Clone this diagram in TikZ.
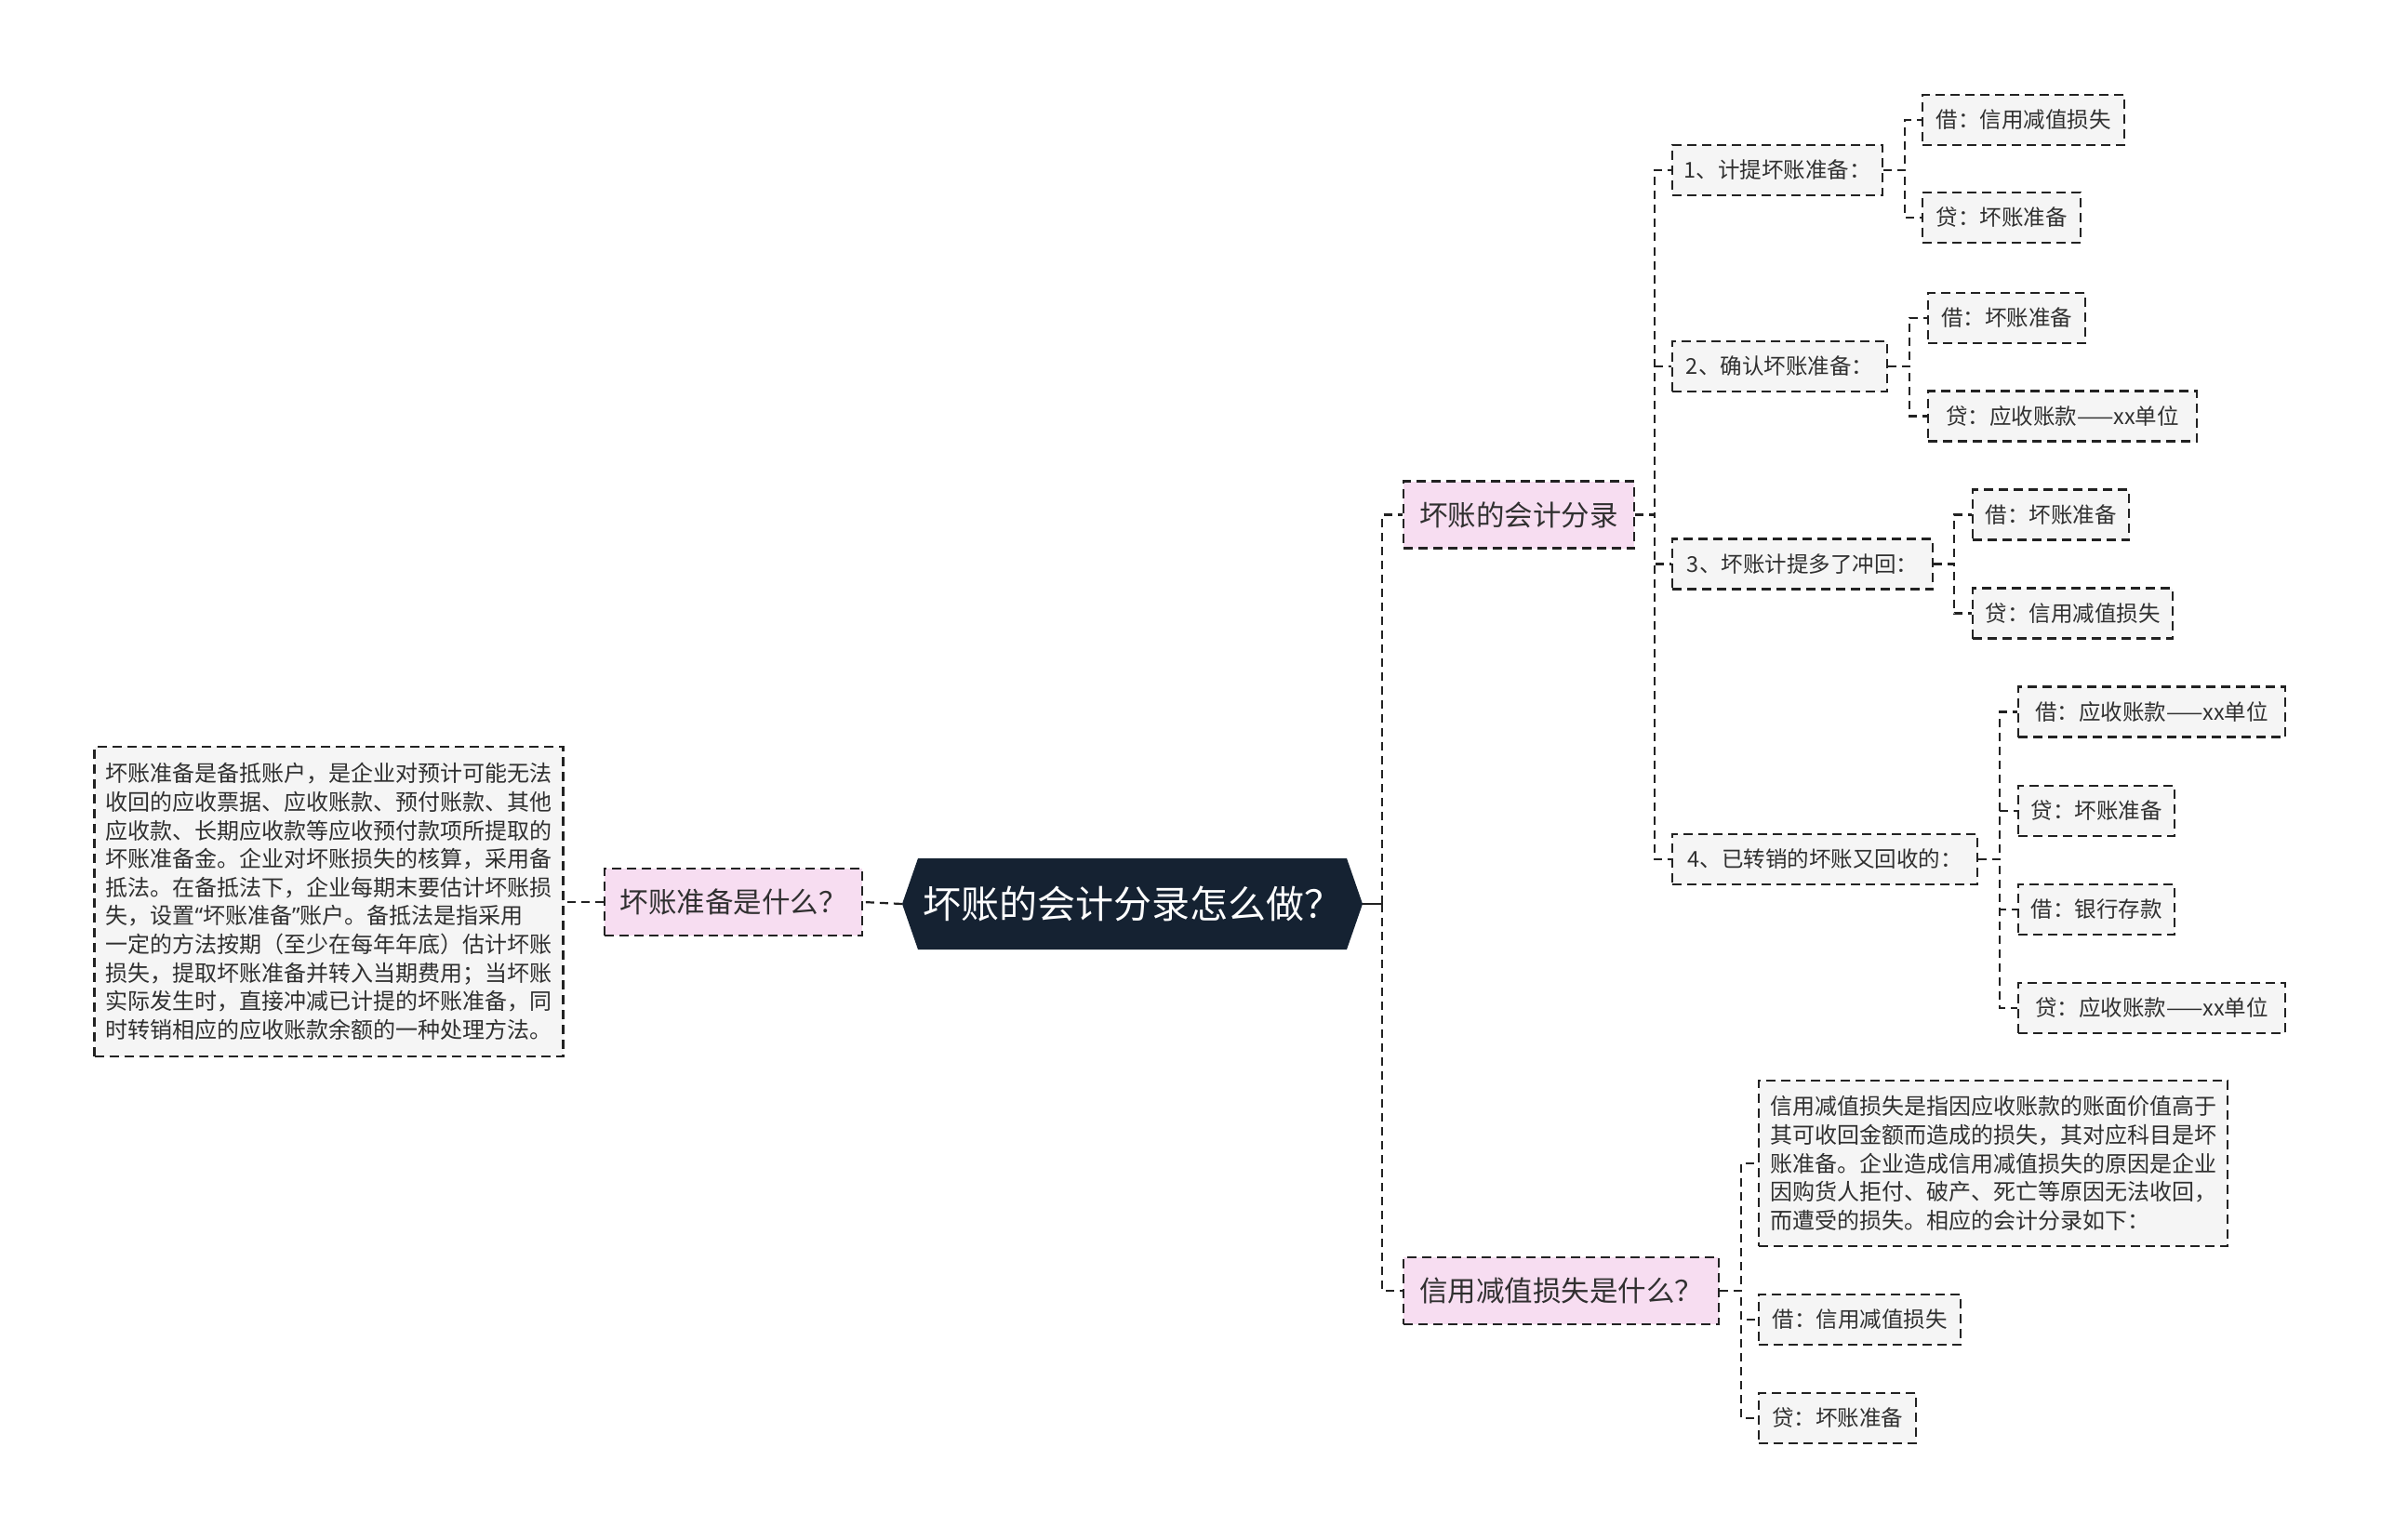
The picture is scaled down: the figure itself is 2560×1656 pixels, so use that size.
\documentclass[tikz,border=0pt]{standalone}
\usepackage{fontspec}
\setmainfont{Noto Sans CJK SC}
\newfontfamily\latq{Noto Sans}
\definecolor{navy}{HTML}{152232}
\definecolor{pinkf}{HTML}{F7DDF1}
\definecolor{leaff}{HTML}{F5F5F5}
\definecolor{bord}{HTML}{222222}
\definecolor{txt}{HTML}{303030}
\tikzset{
  box/.style={draw=bord, line width=2.4pt, dash pattern=on 10pt off 6pt, inner sep=0pt, text=txt},
  leaf/.style={box, fill=leaff, minimum height=54pt, font=\fontsize{23.5}{30}\selectfont},
  topic/.style={box, fill=pinkf, minimum height=72pt, font=\fontsize{30.5}{36}\selectfont},
  longtxt/.style={box, fill=leaff, align=left, text width=480pt, font=\fontsize{24}{30.6}\selectfont, inner xsep=12pt},
  edge/.style={draw=bord, line width=2.2pt, dash pattern=on 9pt off 6pt},
  stub/.style={draw=bord, line width=2.4pt},
}
\begin{document}
\begin{tikzpicture}[x=1pt,y=-1pt]
\fill[white] (0,0) rectangle (2560,1656);
\useasboundingbox (0,0) rectangle (2560,1656);

% central hexagon
\fill[navy] (970,972) -- (987,923) -- (1448,923) -- (1465,972) -- (1448,1021) -- (987,1021) -- cycle;
\node[minimum width=495pt, minimum height=98pt, inner sep=0pt, text=white, font=\fontsize{41}{48}\selectfont] (c) at (1217.5,972) {坏账的会计分录怎么做？};

% left side
\node[topic, minimum width=277pt] (q1) at (788.5,970) {坏账准备是什么？};
\node[longtxt, minimum height=333pt] (t0) at (353.5,969.5) {坏账准备是备抵账户，是企业对预计可能无法\\收回的应收票据、应收账款、预付账款、其他\\应收款、长期应收款等应收预付款项所提取的\\坏账准备金。企业对坏账损失的核算，采用备\\抵法。在备抵法下，企业每期末要估计坏账损\\失，设置{\latq “}坏账准备{\latq ”}账户。备抵法是指采用\\一定的方法按期（至少在每年年底）估计坏账\\损失，提取坏账准备并转入当期费用；当坏账\\实际发生时，直接冲减已计提的坏账准备，同\\时转销相应的应收账款余额的一种处理方法。};

% right topics
\node[topic, minimum width=248pt] (p1) at (1633,553.5) {坏账的会计分录};
\node[topic, minimum width=339pt] (p2) at (1678.5,1388) {信用减值损失是什么？};

% level 2
\node[leaf, minimum width=226pt] (l1) at (1911,183) {1、计提坏账准备：};
\node[leaf, minimum width=231pt] (l2) at (1913.5,394) {2、确认坏账准备：};
\node[leaf, minimum width=280pt] (l3) at (1938,606.5) {3、坏账计提多了冲回：};
\node[leaf, minimum width=328pt] (l4) at (1962,924) {4、已转销的坏账又回收的：};

% leaves
\node[leaf, minimum width=217pt] (g1a) at (2175.5,129) {借：信用减值损失};
\node[leaf, minimum width=170pt] (g1b) at (2152,234) {贷：坏账准备};
\node[leaf, minimum width=169pt] (g2a) at (2157.5,342) {借：坏账准备};
\node[leaf, minimum width=289pt] (g2b) at (2217.5,447.5) {贷：应收账款——xx单位};
\node[leaf, minimum width=168pt] (g3a) at (2205,553.5) {借：坏账准备};
\node[leaf, minimum width=215pt] (g3b) at (2228.5,659.5) {贷：信用减值损失};
\node[leaf, minimum width=287pt] (g4a) at (2313.5,765.5) {借：应收账款——xx单位};
\node[leaf, minimum width=168pt] (g4b) at (2254,872) {贷：坏账准备};
\node[leaf, minimum width=168pt] (g4c) at (2254,978) {借：银行存款};
\node[leaf, minimum width=287pt] (g4d) at (2313.5,1084) {贷：应收账款——xx单位};

\node[longtxt, minimum height=178pt] (g5t) at (2143,1251) {信用减值损失是指因应收账款的账面价值高于\\其可收回金额而造成的损失，其对应科目是坏\\账准备。企业造成信用减值损失的原因是企业\\因购货人拒付、破产、死亡等原因无法收回，\\而遭受的损失。相应的会计分录如下：};
\node[leaf, minimum width=217pt] (g5a) at (1999.5,1419) {借：信用减值损失};
\node[leaf, minimum width=169pt] (g5b) at (1975.5,1525) {贷：坏账准备};

% connectors
\draw[edge] (c.west) -- (q1.east);
\draw[edge] (q1.west) -- (t0.east |- q1.west);

\draw[stub] (c.east) -- ++(21,0) coordinate (k0);
\draw[edge] (k0) |- (p1.west);
\draw[edge] (k0) |- (p2.west);

\foreach \ch in {l1,l2,l3,l4} \draw[edge] (p1.east) -- ++(21,0) |- (\ch.west);
\foreach \ch in {g1a,g1b} \draw[edge] (l1.east) -- ++(23,0) |- (\ch.west);
\foreach \ch in {g2a,g2b} \draw[edge] (l2.east) -- ++(23,0) |- (\ch.west);
\foreach \ch in {g3a,g3b} \draw[edge] (l3.east) -- ++(22,0) |- (\ch.west);
\foreach \ch in {g4a,g4b,g4c,g4d} \draw[edge] (l4.east) -- ++(23,0) |- (\ch.west);
\foreach \ch in {g5t,g5a,g5b} \draw[edge] (p2.east) -- ++(23,0) |- (\ch.west);
\end{tikzpicture}
\end{document}
